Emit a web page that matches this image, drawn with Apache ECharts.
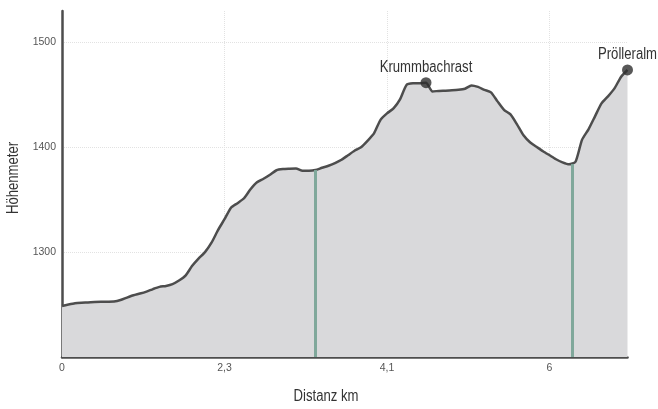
<!DOCTYPE html>
<html>
<head>
<meta charset="utf-8">
<script src="https://cdn.jsdelivr.net/npm/echarts@6/dist/echarts.min.js"></script>
<style>
html,body{margin:0;padding:0;background:#fff;}
#chart{width:658px;height:409px;}
</style>
</head>
<body>
<div id="chart"></div>
<script>
// x: step index along the route; tick labels every 25 steps
const tickLabels = ['0', '2,3', '4,1', '6'];
const tickStep = 25;

// elevation (m) per step
const elevations = [
  1248.6, 1250.0, 1251.2, 1251.7, 1252.0, 1252.4, 1252.6, 1252.7, 1252.9, 1254.3,
  1256.7, 1258.9, 1260.5, 1262.4, 1264.8, 1266.9, 1267.8, 1269.5, 1272.9, 1277.6,
  1286.7, 1293.8, 1300.0, 1309.0, 1321.0, 1331.4, 1342.4, 1346.7, 1351.4, 1360.0,
  1366.7, 1370.0, 1373.8, 1378.1, 1379.2, 1379.5, 1379.7, 1377.6, 1377.6, 1378.3,
  1380.5, 1382.4, 1385.0, 1388.1, 1392.4, 1396.7, 1400.0, 1406.2, 1413.3, 1426.2,
  1432.4, 1437.1, 1445.7, 1459.5, 1461.0, 1461.1, 1461.6, 1453.3, 1453.8, 1454.0,
  1454.3, 1454.8, 1455.9, 1459.0, 1457.6, 1454.8, 1452.4, 1443.8, 1435.7, 1431.4,
  1421.9, 1411.4, 1404.8, 1400.5, 1396.2, 1392.4, 1388.6, 1385.7, 1383.8, 1386.2,
  1407.1, 1417.1, 1429.5, 1441.9, 1448.6, 1456.2, 1467.1, 1473.8
];

// named places
const placeNames = ['Krummbachrast', 'Prölleralm'];
const placeSteps = [56, 87];

// stop markers (vertical lines)
const stopSteps = [39, 78.5];
const stopElevations = [1378.3, 1384.0];

const yMin = 1200, yMax = 1530, yInterval = 100;

const chart = echarts.init(document.getElementById('chart'), null, {renderer: 'canvas'});
const FONT = '"Liberation Sans", Arial, sans-serif';
const NARROW = 0.82;

const profile = elevations.map((v, i) => [i, v]);
const places = placeNames.map((n, k) => ({name: n, value: [placeSteps[k], elevations[placeSteps[k]]]}));

const option = {
  animation: false,
  backgroundColor: '#ffffff',
  grid: {left: 62, right: 30.5, top: 11, bottom: 52, containLabel: false},
  xAxis: {
    type: 'value',
    min: 0,
    max: elevations.length - 1,
    interval: tickStep,
    axisLine: {show: true, onZero: false, lineStyle: {color: '#4d4d4d', width: 2.5}},
    axisTick: {show: false},
    axisLabel: {
      margin: 6,
      color: '#555',
      fontFamily: FONT,
      fontSize: 10.5,
      formatter: v => (v % tickStep === 0 && tickLabels[v / tickStep] !== undefined) ? tickLabels[v / tickStep] : ''
    },
    splitLine: {show: true, showMinLine: false, showMaxLine: false, lineStyle: {color: '#e2e2e2', type: 'dotted', width: 1}}
  },
  yAxis: {
    type: 'value',
    min: yMin,
    max: yMax,
    interval: yInterval,
    axisLine: {show: true, lineStyle: {color: '#4d4d4d', width: 2.5}},
    axisTick: {show: false},
    axisLabel: {
      margin: 6,
      color: '#555',
      fontFamily: FONT,
      fontSize: 10.5,
      showMinLabel: false,
      showMaxLabel: false,
      formatter: v => (v % yInterval === 0 && v !== yMin) ? String(v) : ''
    },
    splitLine: {show: true, showMinLine: false, showMaxLine: false, lineStyle: {color: '#e2e2e2', type: 'dotted', width: 1}}
  },
  series: [
    {
      type: 'line',
      data: profile,
      smooth: 0.2,
      symbol: 'none',
      lineStyle: {color: '#4d4d4d', width: 2.5},
      areaStyle: {color: '#d9d9db', opacity: 1},
      z: 2,
      markLine: {
        silent: true,
        symbol: 'none',
        label: {show: false},
        lineStyle: {color: '#80a89b', width: 3, type: 'solid'},
        data: stopSteps.map((s, k) => [{coord: [s, yMin]}, {coord: [s, stopElevations[k]]}])
      }
    },
    {
      type: 'scatter',
      data: places,
      symbol: 'circle',
      symbolSize: 11,
      itemStyle: {color: '#2e2e2e'},
      z: 5,
      label: {show: false}
    }
  ]
};
chart.setOption(option);

// narrow text labels (no condensed font installed): scale horizontally
const graphics = [
  {
    type: 'text', x: 14, y: 178, rotation: Math.PI / 2, scaleX: NARROW,
    style: {text: 'Höhenmeter', fill: '#333', font: '16px ' + FONT, textAlign: 'center', textVerticalAlign: 'middle'}
  },
  {
    type: 'text', x: 326, y: 397, scaleX: NARROW,
    style: {text: 'Distanz km', fill: '#333', font: '16px ' + FONT, textAlign: 'center', textVerticalAlign: 'middle'}
  }
];
places.forEach(p => {
  const pt = chart.convertToPixel({seriesIndex: 1}, p.value);
  graphics.push({
    type: 'text', x: pt[0], y: pt[1] - 7, scaleX: NARROW, z: 10,
    style: {text: p.name, fill: '#333', font: '16px ' + FONT, textAlign: 'center', textVerticalAlign: 'bottom'}
  });
});
chart.setOption({graphic: graphics});
</script>
</body>
</html>
